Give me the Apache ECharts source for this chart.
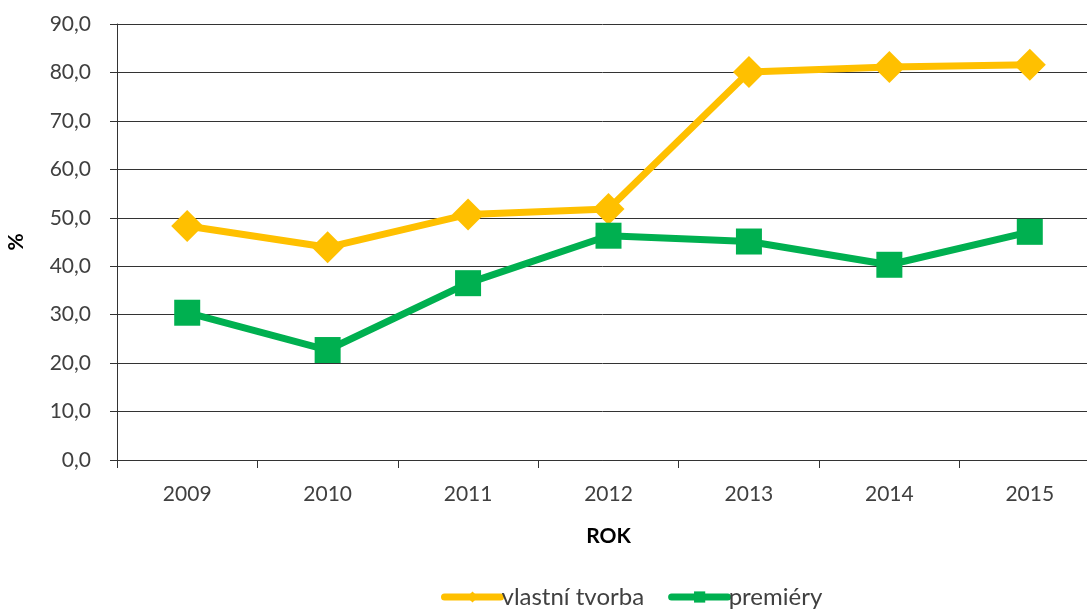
<!DOCTYPE html>
<html><head><meta charset="utf-8">
<script src="https://cdn.jsdelivr.net/npm/echarts@6/dist/echarts.min.js"></script>
<style>html,body{margin:0;padding:0;background:#fff}#c{width:1087px;height:609px}</style>
</head><body><div id="c"></div>
<script>
const years = ['2009','2010','2011','2012','2013','2014','2015'];
const vlastniTvorba = [48.3, 43.9, 50.7, 51.8, 80.1, 81.1, 81.6];
const premiery = [30.4, 22.7, 36.5, 46.3, 45.1, 40.3, 47.1];
const seriesNames = ['vlastní tvorba', 'premiéry'];

const font = 'Lato, "Open Sans", sans-serif';
const txt = '#404040';
const chart = echarts.init(document.getElementById('c'), null, {renderer:'canvas'});
chart.setOption({
  animation:false,
  textStyle:{fontFamily:font},
  grid:{left:117, right:-13, top:24, bottom:149, containLabel:false, outerBoundsMode:'none'},
  legend:{
    bottom:-5, left:436, itemWidth:56, itemHeight:14, itemGap:24,
    lineStyle:{width:7, cap:'round'},
    textStyle:{fontSize:24, color:txt, fontFamily:font, padding:[0,0,0,-4]},
    data:seriesNames
  },
  xAxis:{
    type:'category', data:years, boundaryGap:true,
    name:'ROK', nameLocation:'middle', nameGap:66,
    nameTextStyle:{fontSize:21, fontWeight:'bold', color:'#000', fontFamily:font},
    axisLine:{lineStyle:{color:'#333', width:1}},
    axisTick:{show:true, length:8, lineStyle:{color:'#333'}},
    axisLabel:{fontSize:21, color:txt, margin:24, fontFamily:font}
  },
  yAxis:{
    type:'value', min:0, max:90, interval:10,
    name:'%', nameLocation:'middle', nameGap:90, nameRotate:90,
    nameTextStyle:{fontSize:21, fontWeight:'bold', color:'#000', fontFamily:font},
    axisLine:{show:true, lineStyle:{color:'#333', width:1}},
    axisTick:{show:true, length:7, lineStyle:{color:'#333'}},
    axisLabel:{fontSize:21, color:txt, margin:26, fontFamily:font,
      formatter:v=>v.toFixed(1).replace('.',',')},
    splitLine:{show:true, lineStyle:{color:'#333', width:1}}
  },
  series:[
    {name:seriesNames[0], type:'line', data:vlastniTvorba,
     symbol:'diamond', symbolSize:32,
     lineStyle:{color:'#FFC000', width:7},
     itemStyle:{color:'#FFC000'}},
    {name:seriesNames[1], type:'line', data:premiery,
     symbol:'rect', symbolSize:26,
     lineStyle:{color:'#00B050', width:7},
     itemStyle:{color:'#00B050'}}
  ]
});
</script></body></html>
